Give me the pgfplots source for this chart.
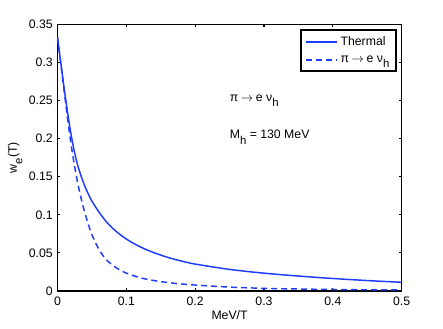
\documentclass[border=0pt]{standalone}
\usepackage{pgfplots}
\pgfplotsset{compat=1.18}
\usepackage{fontspec}
\setmainfont{Liberation Sans}
\definecolor{mblue}{RGB}{30,60,255}
\newcommand{\fs}{\fontsize{9.2}{11}\selectfont}
\newcommand{\sub}[1]{\raisebox{-0.85ex}{\fontsize{8.5}{9}\selectfont #1}}
\newcommand{\piarrow}{π\hspace{2pt}$\rightarrow$\hspace{2pt}e ν\sub{h}}
\begin{document}
\begin{tikzpicture}
  \begin{axis}[
    scale only axis,
    width=258pt, height=200pt,
    xmin=0, xmax=0.5,
    ymin=0, ymax=0.35,
    xtick={0,0.1,0.2,0.3,0.4,0.5},
    ytick={0,0.05,0.1,0.15,0.2,0.25,0.3,0.35},
    scaled x ticks=false, scaled y ticks=false,
    /pgf/number format/assume math mode=true,
    /pgf/number format/fixed,
    /pgf/number format/precision=2,
    tick align=inside,
    major tick length=2pt,
    tick style={black, line width=0.8pt},
    axis line style={line width=1.1pt},
    tick label style={font=\fs},
    xticklabel style={yshift=-1pt},
    xlabel={MeV/T},
    ylabel={w\sub{e}(T)},
    label style={font=\fs},
    xlabel style={yshift=3pt},
    ylabel style={yshift=-2pt},
    legend cell align=left,
    legend style={name=leg, at={(1,1)}, anchor=north east, xshift=-4pt, yshift=-4pt,
      draw=black, font=\fs, inner xsep=3pt, inner ysep=3pt, row sep=2pt},
    legend image code/.code={\draw[#1] (0pt,0pt) -- (23pt,0pt);},
  ]
    \addlegendimage{color=mblue, line width=1.2pt}
    \addlegendentry{Thermal}
    \addlegendimage{color=mblue, line width=1.2pt, dash pattern=on 4.5pt off 3pt}
    \addlegendentry{\piarrow}
    \addplot[color=mblue, line width=1.1pt, smooth, forget plot] coordinates {
      (0,0.333)(0.005,0.298)(0.01,0.264)(0.015,0.232)(0.02,0.204)(0.025,0.181)
      (0.03,0.163)(0.035,0.149)(0.04,0.137)(0.045,0.127)(0.05,0.118)(0.06,0.104)
      (0.07,0.092)(0.08,0.0825)(0.09,0.0748)(0.1,0.0683)(0.11,0.0628)(0.12,0.0581)
      (0.13,0.054)(0.14,0.0504)(0.15,0.0472)(0.16,0.0443)(0.17,0.0417)(0.18,0.0394)
      (0.19,0.0373)(0.2,0.0354)(0.25,0.0284)(0.3,0.0235)(0.35,0.0197)
      (0.4,0.0165)(0.45,0.0138)(0.5,0.0115)
    };
    \addplot[color=mblue, line width=1.1pt, dash pattern=on 4.5pt off 3pt, smooth, forget plot] coordinates {
      (0,0.333)(0.005,0.297)(0.01,0.260)(0.015,0.224)(0.02,0.191)(0.025,0.163)
      (0.03,0.139)(0.035,0.119)(0.04,0.102)(0.045,0.087)(0.05,0.074)(0.06,0.055)
      (0.07,0.042)(0.08,0.034)(0.09,0.028)(0.1,0.0235)(0.12,0.0175)(0.14,0.0138)
      (0.16,0.0112)(0.18,0.0093)(0.2,0.0079)(0.25,0.0052)(0.3,0.0036)
      (0.35,0.0027)(0.4,0.0021)(0.45,0.0017)(0.5,0.0014)
    };
    \node[anchor=west, font=\fs, inner sep=0pt] at (axis cs:0.25,0.25) {\piarrow};
    \node[anchor=west, font=\fs, inner sep=0pt] at (axis cs:0.25,0.202) {M\sub{h} = 130 MeV};
  \end{axis}
  \draw[line width=1.4pt] (leg.south west) rectangle (leg.north east);
  \pgfresetboundingbox
  \path (current axis.south west) ++(-43.1pt,-27.7pt) coordinate (bbsw)
        (current axis.north east) ++(31pt,18.2pt) coordinate (bbne);
  \path (bbsw) rectangle (bbne);
\end{tikzpicture}
\end{document}
